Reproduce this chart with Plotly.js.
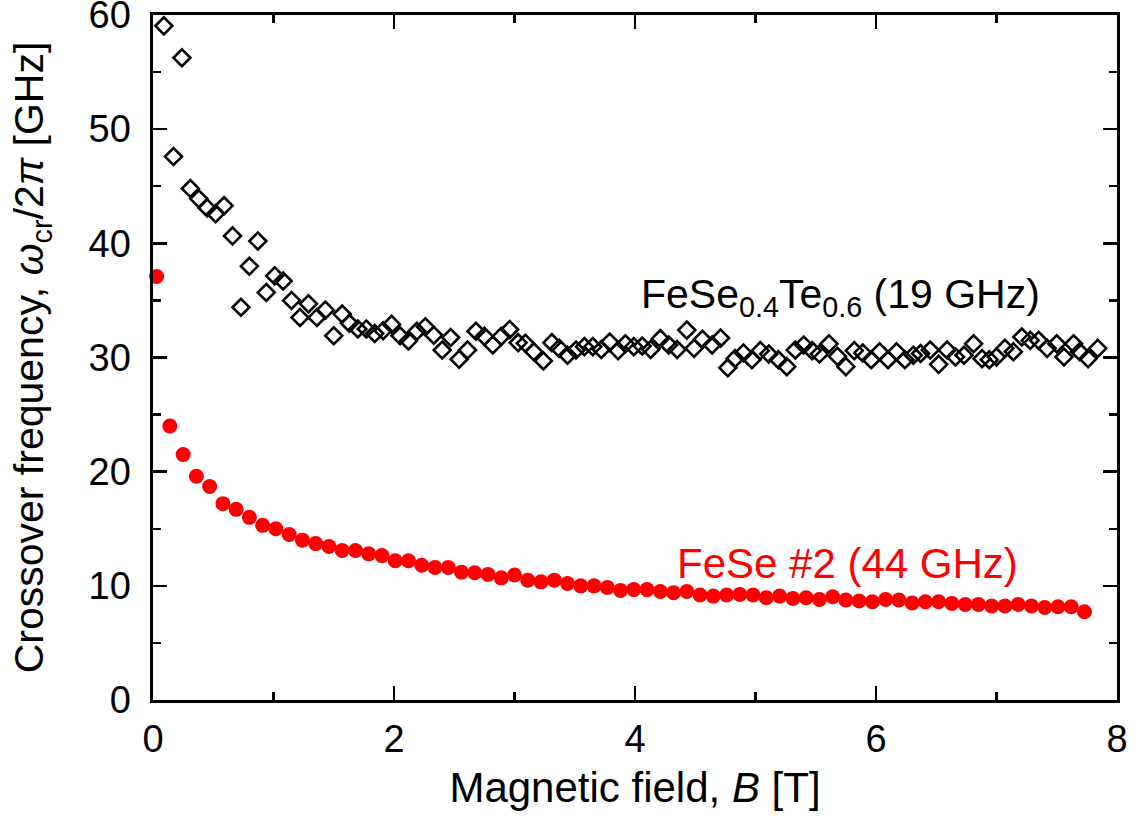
<!DOCTYPE html>
<html>
<head>
<meta charset="utf-8">
<script src="https://cdn.plot.ly/plotly-3.0.1.min.js"></script>
<style>html,body{margin:0;padding:0;background:#fff;}#chart{width:1138px;height:820px;}</style>
</head>
<body>
<div id="chart"></div>
<script>
// FeSe #2 (44 GHz) – red filled circles
const feseB = [0.03,0.14,0.25,0.36,0.47,0.58,0.69,0.80,0.91,1.02,1.13,1.24,1.35,1.46,1.57,1.68,1.79,1.90,2.01,2.12,2.23,2.34,2.45,2.56,2.67,2.78,2.89,3.00,3.11,3.22,3.33,3.44,3.55,3.66,3.77,3.88,3.99,4.10,4.21,4.32,4.43,4.54,4.65,4.76,4.87,4.98,5.09,5.20,5.31,5.42,5.53,5.64,5.75,5.86,5.97,6.08,6.19,6.30,6.41,6.52,6.63,6.74,6.85,6.96,7.07,7.18,7.29,7.40,7.51,7.62,7.73];
const feseW = [37.1,24.0,21.5,19.6,18.7,17.2,16.7,16.0,15.3,15.0,14.5,14.0,13.7,13.45,13.1,13.1,12.8,12.65,12.2,12.2,11.8,11.6,11.6,11.2,11.15,11.0,10.7,10.95,10.5,10.35,10.5,10.2,10.0,10.0,9.85,9.6,9.67,9.67,9.5,9.4,9.5,9.2,9.1,9.2,9.25,9.2,8.96,9.1,8.9,8.96,8.8,9.05,8.76,8.67,8.6,8.8,8.76,8.5,8.6,8.6,8.45,8.37,8.37,8.23,8.23,8.37,8.23,8.1,8.17,8.17,7.73];

// FeSe0.4Te0.6 (19 GHz) – black open diamonds
const fstB = [0.09,0.17,0.24,0.31,0.38,0.45,0.52,0.59,0.66,0.73,0.80,0.87,0.94,1.01,1.08,1.15,1.22,1.29,1.36,1.43,1.50,1.57,1.63,1.70,1.77,1.84,1.91,1.98,2.05,2.12,2.19,2.26,2.33,2.40,2.47,2.54,2.61,2.68,2.75,2.82,2.89,2.96,3.03,3.09,3.16,3.24,3.31,3.37,3.44,3.51,3.58,3.65,3.72,3.79,3.86,3.92,3.99,4.06,4.13,4.21,4.28,4.35,4.43,4.49,4.56,4.64,4.71,4.77,4.83,4.90,4.97,5.04,5.11,5.19,5.26,5.33,5.40,5.47,5.53,5.61,5.68,5.75,5.82,5.89,5.96,6.03,6.10,6.17,6.24,6.31,6.37,6.45,6.52,6.59,6.66,6.73,6.81,6.88,6.94,7.00,7.07,7.14,7.21,7.28,7.35,7.42,7.50,7.56,7.64,7.69,7.76,7.84];
const fstW = [59.05,47.6,56.25,44.8,43.9,43.1,42.6,43.3,40.65,34.4,38.0,40.2,35.7,37.15,36.7,35.0,33.5,34.7,33.5,34.15,31.9,33.8,33.0,32.5,32.5,32.1,32.35,32.9,31.9,31.45,32.3,32.7,31.95,30.65,31.75,29.85,30.65,32.3,31.85,31.1,31.85,32.45,31.3,31.25,30.5,29.7,31.3,30.8,30.2,30.65,30.95,30.95,30.7,31.35,30.6,31.2,30.95,31.0,30.7,31.65,31.1,30.7,32.4,30.8,31.6,31.1,31.7,29.1,29.9,30.4,29.8,30.6,30.3,29.8,29.2,30.65,31.1,30.6,30.3,31.2,30.1,29.2,30.6,30.4,29.8,30.5,29.8,30.5,29.8,30.2,30.35,30.65,29.4,30.65,30.05,30.2,31.2,29.9,29.8,30.05,30.8,30.5,31.8,31.5,31.5,30.8,31.2,30.05,31.2,30.5,29.9,30.8];

const xTickVals = [0,2,4,6,8];
const yTickVals = [0,10,20,30,40,50,60];

const FONT = "'Liberation Sans', Arial, sans-serif";

const traces = [
  {
    x: fstB, y: fstW, type: 'scatter', mode: 'markers', name: 'FeSe0.4Te0.6',
    marker: {symbol: 'diamond-open', size: 13, color: '#000', line: {color: '#000', width: 2.6}},
    cliponaxis: false
  },
  {
    x: feseB, y: feseW, type: 'scatter', mode: 'markers', name: 'FeSe #2',
    marker: {symbol: 'circle', size: 15, color: '#ff0000', line: {width: 0}},
    cliponaxis: false
  }
];

const axisCommon = {
  showgrid: false, zeroline: false, showline: true, linecolor: '#000', linewidth: 2.6,
  mirror: 'allticks', ticks: 'inside', ticklen: 14, tickwidth: 2.4, tickcolor: '#000',
  ticklabeloverflow: 'allow',
  tickfont: {family: FONT, size: 38, color: '#000'}
};

const layout = {
  width: 1138, height: 820,
  margin: {l: 153, r: 21, t: 15, b: 120},
  paper_bgcolor: '#fff', plot_bgcolor: '#fff',
  showlegend: false,
  font: {family: FONT, color: '#000'},
  xaxis: Object.assign({}, axisCommon, {
    range: [0, 8], tickmode: 'array', tickvals: xTickVals,
    minor: {dtick: 1, tick0: 0, ticks: 'inside', ticklen: 8, tickwidth: 2.4, tickcolor: '#000'},
    ticklabelstandoff: 4,
    title: {text: 'Magnetic field, <i>B</i> [T]', font: {family: FONT, size: 42, color: '#000'}, standoff: 14}
  }),
  yaxis: Object.assign({}, axisCommon, {
    range: [0, 60], tickmode: 'array', tickvals: yTickVals,
    minor: {dtick: 5, tick0: 0, ticks: 'inside', ticklen: 8, tickwidth: 2.4, tickcolor: '#000'},
    ticklabelstandoff: 12,
    title: {text: 'Crossover frequency, <i>ω</i><sub>cr</sub>/2<i>π</i> [GHz]', font: {family: FONT, size: 41, color: '#000'}, standoff: 32}
  }),
  annotations: [
    {x: 4.03, y: 35.3, xref: 'x', yref: 'y', xanchor: 'left', yanchor: 'middle', showarrow: false,
     text: 'FeSe<sub>0.4</sub>Te<sub>0.6</sub> (19 GHz)', font: {family: FONT, size: 41, color: '#000'}},
    {x: 4.33, y: 12.0, xref: 'x', yref: 'y', xanchor: 'left', yanchor: 'middle', showarrow: false,
     text: 'FeSe #2 (44 GHz)', font: {family: FONT, size: 42, color: '#ff0000'}}
  ]
};

Plotly.newPlot('chart', traces, layout, {displayModeBar: false, staticPlot: true});
</script>
</body>
</html>
